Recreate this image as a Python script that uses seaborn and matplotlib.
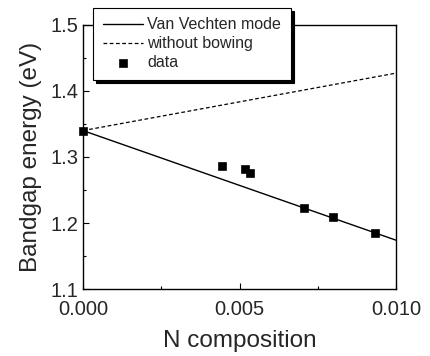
import numpy as np
import pandas as pd
import seaborn as sns
import matplotlib.pyplot as plt
from matplotlib.ticker import MultipleLocator

# values
n_data = [0.0, 0.00444, 0.00518, 0.00534, 0.00706, 0.00799, 0.00933]
eg_data = [1.340, 1.286, 1.282, 1.276, 1.223, 1.209, 1.185]

n_line = [0.0, 0.010]
eg_vanvechten = [1.340, 1.174]
eg_nobowing = [1.340, 1.427]

sns.set_style("ticks")
plt.rcParams['font.family'] = ['Liberation Sans', 'DejaVu Sans']

fig = plt.figure(figsize=(4.3, 3.56), dpi=100)
ax = fig.add_axes([0.193, 0.188, 0.728, 0.742])

sns.lineplot(x=n_line, y=eg_vanvechten, color="black", lw=1.0,
             label="Van Vechten mode", ax=ax)
sns.lineplot(x=n_line, y=eg_nobowing, color="black", lw=0.9,
             linestyle=(0, (3, 2)), label="without bowing", ax=ax)
sns.scatterplot(x=n_data, y=eg_data, color="black", marker="s", s=34,
                edgecolor="black", label="data", ax=ax, zorder=5, clip_on=False)

ax.set_xlim(0, 0.010)
ax.set_ylim(1.1, 1.5)
ax.xaxis.set_major_locator(MultipleLocator(0.005))
ax.xaxis.set_minor_locator(MultipleLocator(0.0025))
ax.yaxis.set_major_locator(MultipleLocator(0.1))
ax.yaxis.set_minor_locator(MultipleLocator(0.05))
ax.xaxis.set_major_formatter(plt.FormatStrFormatter("%.3f"))
ax.yaxis.set_major_formatter(plt.FormatStrFormatter("%.1f"))
ax.tick_params(which="both", direction="in", top=False, right=False,
               labelsize=14.5, width=0.8, color="black")
ax.tick_params(which="major", length=4)
ax.tick_params(which="minor", length=2.5)
ax.tick_params(axis="x", which="major", pad=8)
for s in ax.spines.values():
    s.set_linewidth(1.0)
    s.set_color("black")

ax.set_xlabel("N composition", fontsize=17.5, labelpad=8)
ax.set_ylabel("Bandgap energy (eV)", fontsize=17.5, labelpad=6)

leg = ax.legend(loc="upper left", bbox_to_anchor=(0.032, 1.065), fontsize=11.5,
                frameon=True, fancybox=False, shadow={"color": "black", "alpha": 1},
                edgecolor="black", framealpha=1, handlelength=2.5,
                handletextpad=0.3, borderpad=0.6, borderaxespad=0,
                labelspacing=0.25)
leg.get_frame().set_linewidth(0.8)

fig.savefig("out.png", dpi=100)
